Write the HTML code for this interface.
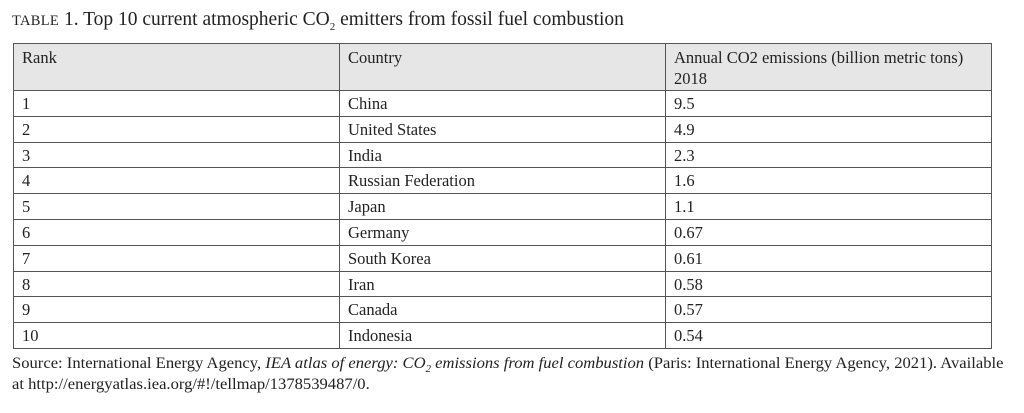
<!DOCTYPE html>
<html><head><meta charset="utf-8"><style>
body{margin:0;width:1024px;height:413px;background:#fff;font-family:"Liberation Serif",serif;color:#222;position:relative;overflow:hidden}
sub{line-height:0}
.t{position:absolute;left:12px;top:9px;font-size:19.5px;white-space:nowrap}
.sc{font-size:14.5px;letter-spacing:0.3px}
table{position:absolute;left:13px;top:43px;border-collapse:collapse;width:979px;font-size:16.5px;table-layout:fixed}
td{border:1.3px solid #555;padding:2px 8px 0 8px;vertical-align:top;height:25.8px;box-sizing:border-box;line-height:21px;white-space:nowrap}
tr.h td{background:#e6e6e6;height:47px;line-height:21px;padding-top:3px}
.src{position:absolute;left:12px;top:353px;font-size:15.5px;line-height:21px;transform:scaleX(1.07);transform-origin:left top;white-space:nowrap}
</style></head><body>
<div class="t"><span class="sc">TABLE</span> 1. Top 10 current atmospheric CO<sub style="font-size:11px">2</sub> emitters from fossil fuel combustion</div>
<table>
<colgroup><col style="width:326px"><col style="width:326px"><col></colgroup>
<tr class="h"><td>Rank</td><td>Country</td><td>Annual CO2 emissions (billion metric tons)<br>2018</td></tr>
<tr><td>1</td><td>China</td><td>9.5</td></tr>
<tr><td>2</td><td>United States</td><td>4.9</td></tr>
<tr><td>3</td><td>India</td><td>2.3</td></tr>
<tr><td>4</td><td>Russian Federation</td><td>1.6</td></tr>
<tr><td>5</td><td>Japan</td><td>1.1</td></tr>
<tr><td>6</td><td>Germany</td><td>0.67</td></tr>
<tr><td>7</td><td>South Korea</td><td>0.61</td></tr>
<tr><td>8</td><td>Iran</td><td>0.58</td></tr>
<tr><td>9</td><td>Canada</td><td>0.57</td></tr>
<tr><td>10</td><td>Indonesia</td><td>0.54</td></tr>
</table>
<div class="src">Source: International Energy Agency, <i>IEA atlas of energy: CO<sub style="font-size:10px">2</sub> emissions from fuel combustion</i> (Paris: International Energy Agency, 2021). Available<br>at http://energyatlas.iea.org/#!/tellmap/1378539487/0.</div>
</body></html>
